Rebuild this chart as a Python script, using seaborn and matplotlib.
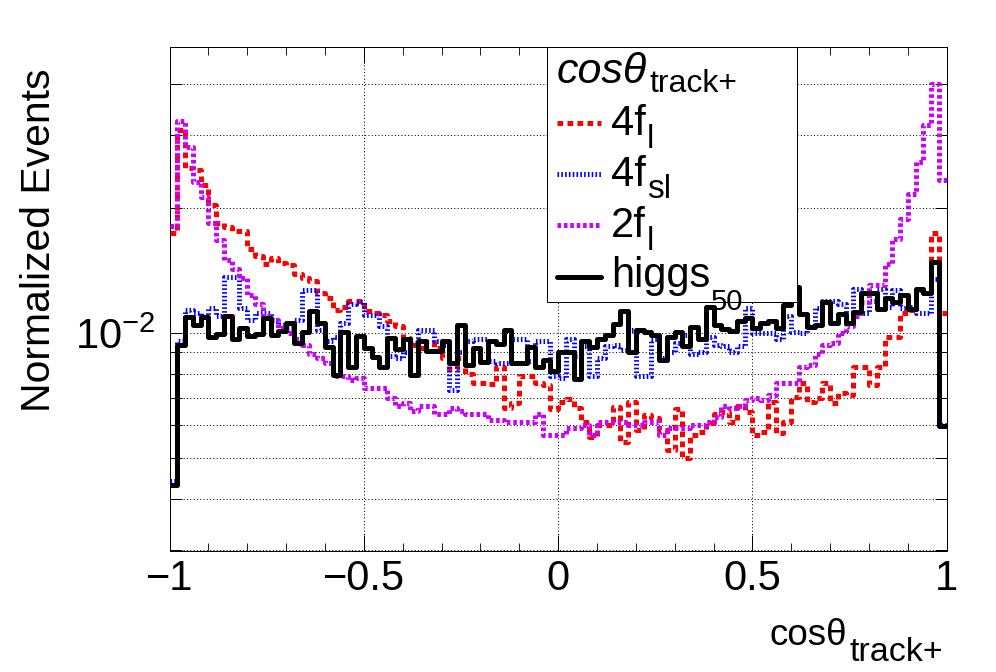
import numpy as np
import pandas as pd
import matplotlib
matplotlib.use("Agg")
import matplotlib.pyplot as plt
import seaborn as sns
from matplotlib.patches import Rectangle
from matplotlib.lines import Line2D
from matplotlib.ticker import FixedLocator, MultipleLocator, NullFormatter

# ---------------- data (100 bins, cos(theta) from -1 to 1) ----------------
bin_edges = np.linspace(-1.0, 1.0, 101)

v_4fl = [0.0175, 0.0309, 0.0251, 0.0247, 0.0228, 0.0204, 0.0185, 0.0180, 0.0176, 0.0176,
         0.0160, 0.0154, 0.0147, 0.0152, 0.0148, 0.0146, 0.0139, 0.0136, 0.0134, 0.0125,
         0.0122, 0.0114, 0.0116, 0.0120, 0.0120, 0.0113, 0.0112, 0.0111, 0.0107, 0.0104,
         0.00974, 0.00937, 0.0092, 0.00954, 0.0092, 0.0087, 0.0082, 0.0087, 0.0080, 0.00758,
         0.00758, 0.00754, 0.00831, 0.0066, 0.00678, 0.00789, 0.00789, 0.00758, 0.0075, 0.00656,
         0.00684, 0.00693, 0.0066, 0.00613, 0.00563, 0.00601, 0.00601, 0.00665, 0.00548, 0.00684,
         0.00585, 0.00636, 0.00624, 0.00585, 0.00523, 0.00656, 0.0050, 0.00569, 0.00579, 0.00607,
         0.0064, 0.00647, 0.00613, 0.00668, 0.00647, 0.00569, 0.0058, 0.00684, 0.00574, 0.00613,
         0.00704, 0.00758, 0.00684, 0.0070, 0.00758, 0.00678, 0.00717, 0.0071, 0.00831, 0.00831,
         0.0075, 0.00831, 0.00981, 0.0098, 0.01117, 0.0114, 0.0127, 0.0127, 0.0175, 0.0112]

v_4fsl = [0.0044, 0.0096, 0.0114, 0.0112, 0.0110, 0.0115, 0.0110, 0.0137, 0.0137, 0.0115,
          0.0108, 0.0112, 0.0112, 0.0108, 0.0105, 0.0103, 0.0108, 0.0127, 0.0127, 0.0102,
          0.0096, 0.0098, 0.0106, 0.0118, 0.0119, 0.0111, 0.0111, 0.0104, 0.0088, 0.0087,
          0.0090, 0.0095, 0.0102, 0.0102, 0.0096, 0.0094, 0.0073, 0.0090, 0.0096, 0.0097,
          0.0097, 0.0086, 0.0085, 0.0085, 0.0097, 0.0097, 0.0086, 0.0096, 0.0096, 0.0079,
          0.0078, 0.0097, 0.0088, 0.0093, 0.0079, 0.0087, 0.0093, 0.0094, 0.0091, 0.0102,
          0.0079, 0.0079, 0.0097, 0.0087, 0.0090, 0.0095, 0.0099, 0.0089, 0.0090, 0.0098,
          0.0094, 0.0093, 0.0090, 0.0093, 0.0115, 0.0100, 0.0100, 0.0100, 0.0097, 0.0110,
          0.0101, 0.0100, 0.0104, 0.0115, 0.0120, 0.0120, 0.0118, 0.0106, 0.0128, 0.0112,
          0.0120, 0.0128, 0.0116, 0.0127, 0.0115, 0.0116, 0.0112, 0.0112, 0.0135, 0.0060]

v_2fl = [0.0181, 0.0325, 0.0281, 0.0232, 0.0213, 0.0184, 0.0168, 0.0150, 0.0143, 0.0136,
         0.0124, 0.0118, 0.0110, 0.0108, 0.0103, 0.0100, 0.0097, 0.0094, 0.0089, 0.0087,
         0.0085, 0.0079, 0.0079, 0.0077, 0.0078, 0.0074, 0.0074, 0.0074, 0.0070, 0.0067,
         0.0068, 0.0065, 0.0067, 0.0067, 0.0064, 0.0064, 0.0066, 0.0065, 0.0064, 0.0064,
         0.0064, 0.0062, 0.0062, 0.0061, 0.0061, 0.0061, 0.0061, 0.0064, 0.0057, 0.0057,
         0.0057, 0.0059, 0.0059, 0.0060, 0.0057, 0.0061, 0.0061, 0.0061, 0.0061, 0.0060,
         0.0060, 0.0061, 0.0061, 0.0057, 0.0059, 0.0059, 0.0059, 0.0060, 0.0060, 0.0061,
         0.0063, 0.0067, 0.0066, 0.0067, 0.0069, 0.0070, 0.0069, 0.0071, 0.0076, 0.0076,
         0.0076, 0.0083, 0.0084, 0.0089, 0.0094, 0.0095, 0.0100, 0.0104, 0.0110, 0.0119,
         0.0131, 0.0131, 0.0147, 0.0169, 0.0189, 0.0217, 0.0259, 0.0318, 0.0400, 0.0234]

v_higgs = [0.00431, 0.00937, 0.01096, 0.01047, 0.01096, 0.00981, 0.00996, 0.0110, 0.00967, 0.01028,
           0.00987, 0.00996, 0.0109, 0.0099, 0.01014, 0.01057, 0.00946, 0.01005, 0.01133, 0.01057,
           0.00925, 0.00793, 0.01007, 0.00831, 0.00987, 0.0092, 0.00878, 0.00831, 0.00973, 0.00915,
           0.00967, 0.00796, 0.0096, 0.00908, 0.00908, 0.0096, 0.00847, 0.01047, 0.00839, 0.0092,
           0.00854, 0.0096, 0.00942, 0.01018, 0.00847, 0.00847, 0.00928, 0.00828, 0.00862, 0.00813,
           0.00903, 0.00903, 0.00775, 0.00958, 0.00925, 0.00967, 0.0099, 0.01053, 0.01133, 0.00903,
           0.01018, 0.0101, 0.0099, 0.00862, 0.00981, 0.01009, 0.00932, 0.01034, 0.00967, 0.01155,
           0.01047, 0.01022, 0.01012, 0.01072, 0.01087, 0.01031, 0.0106, 0.01072, 0.01028, 0.0117,
           0.01295, 0.01113, 0.01037, 0.01047, 0.01192, 0.0106, 0.01113, 0.0106, 0.01127, 0.01248,
           0.0125, 0.01148, 0.0122, 0.01192, 0.01237, 0.01148, 0.01276, 0.0125, 0.01483, 0.00598]

sample_keys = ["4fl", "4fsl", "2fl", "higgs"]
x_ticks = [-1.0, -0.5, 0.0, 0.5, 1.0]
x_tick_labels = ["\u22121", "\u22120.5", "0", "0.5", "1"]
y_minor_ticks = [0.003, 0.004, 0.005, 0.006, 0.007, 0.008, 0.009, 0.02, 0.03, 0.04]

# ---------------- style ----------------
sns.set_theme(style="white")
plt.rcParams['font.family'] = ['Liberation Sans', 'DejaVu Sans']
plt.rcParams['mathtext.fontset'] = 'custom'
plt.rcParams['mathtext.rm'] = 'Liberation Sans'
plt.rcParams['mathtext.it'] = 'Liberation Sans:italic'
plt.rcParams['mathtext.bf'] = 'Liberation Sans:bold'
plt.rcParams['lines.scale_dashes'] = False

PX = 0.72  # points per pixel at dpi 100
W, H = 996, 672

styles = {
    "4fl":   dict(color="#ff0000", linestyle=(0, (5.7 * PX, 4.3 * PX))),
    "4fsl":  dict(color="#0000ff", linestyle=(0, (1.6 * PX, 2.2 * PX))),
    "2fl":   dict(color="#cc00ff", linestyle=(0, (3.6 * PX, 2.8 * PX))),
    "higgs": dict(color="#000000", linestyle="-"),
}
LW = 5 * PX

centers = 0.5 * (bin_edges[:-1] + bin_edges[1:])
df = pd.DataFrame({
    "x": np.tile(centers, 4),
    "w": np.concatenate([v_4fl, v_4fsl, v_2fl, v_higgs]),
    "sample": np.repeat(sample_keys, len(centers)),
})

fig = plt.figure(figsize=(W / 100, H / 100), dpi=100)
ax_l, ax_r, ax_t, ax_b = 169.5, 946.7, 47.3, 551.0
ax = fig.add_axes([ax_l / W, 1 - ax_b / H, (ax_r - ax_l) / W, (ax_b - ax_t) / H])

for i, key in enumerate(sample_keys):
    sns.histplot(data=df[df["sample"] == key], x="x", weights="w", bins=list(bin_edges),
                 element="step", fill=False, linewidth=LW, ax=ax,
                 zorder=3 + i, dash_capstyle="butt", **styles[key])

ax.set_yscale("log")
ax.set_xlim(-1, 1)
ax.set_ylim(0.00299, 0.0489)
ax.set_xlabel("")
ax.set_ylabel("")

# x ticks
ax.xaxis.set_major_locator(FixedLocator(x_ticks))
ax.set_xticklabels(x_tick_labels)
ax.xaxis.set_minor_locator(MultipleLocator(0.1))
ax.tick_params(axis="x", which="major", direction="in", length=16 * PX, width=1 * PX,
               top=True, bottom=True, labelsize=30, pad=8 * PX, colors="black")
ax.tick_params(axis="x", which="minor", direction="in", length=8 * PX, width=1 * PX,
               top=True, bottom=True)

# y ticks
ax.yaxis.set_major_locator(FixedLocator([0.01]))
ax.set_yticklabels([r"$10^{-2}$"])
ax.yaxis.set_minor_locator(FixedLocator(y_minor_ticks))
ax.yaxis.set_minor_formatter(NullFormatter())
ax.tick_params(axis="y", which="both", direction="in", length=12 * PX, width=1 * PX,
               left=True, right=True, labelsize=30, pad=14 * PX, colors="black")

for s in ax.spines.values():
    s.set_color("black")
    s.set_linewidth(1 * PX)

grid_kw = dict(color="black", linewidth=1 * PX, linestyle=(0, (1 * PX, 2.3 * PX)))
ax.grid(True, axis="x", which="major", **grid_kw)
ax.grid(True, axis="y", which="both", **grid_kw)
ax.set_axisbelow(True)

renderer = fig.canvas.get_renderer()

def ftext(x, y, s, size, ha="left", **kw):
    return fig.text(x / W, 1 - y / H, s, ha=ha, va="baseline", fontsize=size,
                    color="black", zorder=21, **kw)

def right_px(t):
    return t.get_window_extent(renderer).x1

# axis titles
fig.text(50 / W, 1 - 411.7 / H, "Normalized Events", rotation=90, rotation_mode="anchor",
         ha="left", va="baseline", fontsize=29.4, color="black")
ftext(847, 645, "cos\u03b8", 26.5, ha="right")
ftext(849, 661, "track+", 24.5)

# legend (drawn like the ROOT TLegend)
box = Rectangle((547.3 / W, 1 - 301.7 / H), (796.7 - 547.3) / W, (301.7 - 47.3) / H,
                transform=fig.transFigure, facecolor="white", edgecolor="black",
                linewidth=1 * PX, zorder=20)
fig.add_artist(box)

t_title = ftext(557, 83.3, "cos\u03b8", 31, style="italic")
ftext(right_px(t_title) + 2, 91.7, "track+", 23)

entries = [("4fl", "4f", "l", 135, 148, 24, 123),
           ("4fsl", "4f", "sl", 186, 198, 24, 174),
           ("2fl", "2f", "l", 237, 250, 24, 225),
           ("higgs", "higgs", "50", 287, 310, 21, 277)]
for key, main, sub, yb, ysb, ssize, yl in entries:
    fig.add_artist(Line2D([557 / W, 601 / W], [1 - yl / H, 1 - yl / H], transform=fig.transFigure,
                          linewidth=LW, zorder=21, dash_capstyle="butt", **styles[key]))
    t_main = ftext(611, yb, main, 30)
    ftext(right_px(t_main) + 1, ysb, sub, ssize)

fig.savefig("out.png", dpi=100)
